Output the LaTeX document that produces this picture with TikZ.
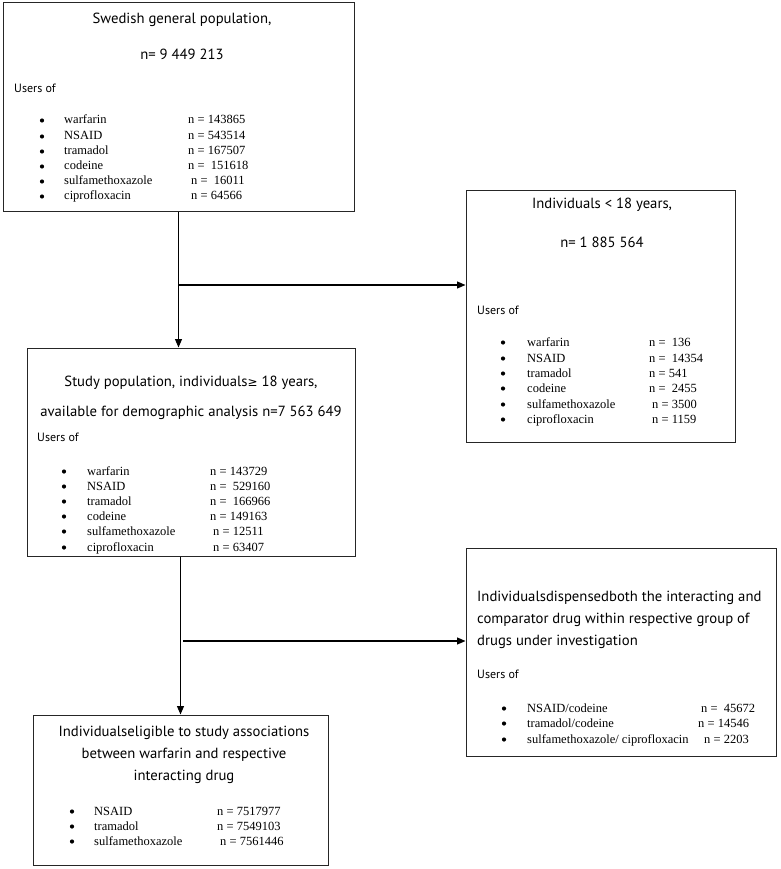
\documentclass[tikz,border=0pt]{standalone}
\usepackage{fontspec}
\setmainfont{Liberation Serif}
\newfontfamily\hdr{PT Sans}
\newfontfamily\symf{DejaVu Sans}
\usetikzlibrary{arrows.meta,calc}
\begin{document}
\begin{tikzpicture}[x=1pt,y=-1pt,
  box/.style={draw=black!85,line width=1pt,inner sep=0pt,fill=none},
  arr/.style={line width=1.2pt,-{Triangle[length=8.5pt,width=7pt]}},
  ttl/.style={font=\hdr\fontsize{14.7}{17}\selectfont,inner sep=0pt},
  ttlw/.style={font=\hdr\fontsize{14.7}{17}\selectfont,inner sep=0pt,anchor=west},
  usr/.style={font=\hdr\fontsize{12}{14}\selectfont,inner sep=0pt,anchor=west},
  itm/.style={font=\fontsize{12.5}{14}\selectfont,inner sep=0pt,anchor=base west},
  bul/.style={circle,fill=black,inner sep=0pt,minimum size=4.2pt}]
\useasboundingbox (0,0) rectangle (780,869);
% boxes
\node[box,minimum width=351pt,minimum height=208pt] (b1) at (178.5,107) {};
\node[box,minimum width=328pt,minimum height=208pt] (b2) at (191,452) {};
\node[box,minimum width=269pt,minimum height=252pt] (b3) at (600.5,316) {};
\node[box,minimum width=310pt,minimum height=208pt] (b4) at (621,652) {};
\node[box,minimum width=295pt,minimum height=150pt] (b5) at (180.5,790) {};
% connectors
\draw[arr] (b1.south) -- (b1.south |- b2.north);
\coordinate (j1) at (178.5,285);
\draw[arr] (j1) -- (j1 -| b3.west);
\draw[arr] (b5.north |- b2.south) -- (b5.north);
\coordinate (j2) at (183,641);
\draw[arr] (j2) -- (j2 -| b4.west);
% box 1
\node[ttl] (t11) at (182,20) {Swedish general population,};
\node[ttl] (t12) at (182,54) {n= 9 449 213};
\node[usr] (u1) at (14,88) {Users of};
\foreach \y/\nm/\nv/\nx [count=\i] in {119/warfarin/n = 143865/188, 135/NSAID/n = 543514/188, 150/tramadol/n = 167507/188, 165/codeine/n =\ \ 151618/188, 180/sulfamethoxazole/n =\ \ 16011/191, 195/ciprofloxacin/n = 64566/191}{
  \node[bul] (a1b\i) at (42,\y+1.5) {};
  \node[itm] (a1n\i) at (64,\y+5) {\nm};
  \node[itm] (a1v\i) at (\nx,\y+5) {\nv};
}
% box 3
\node[ttl] (t31) at (602,205) {Individuals < 18 years,};
\node[ttl] (t32) at (602,242) {n= 1 885 564};
\node[usr] (u3) at (477,310) {Users of};
\foreach \y/\nm/\nv/\nx [count=\i] in {341/warfarin/n =\ \ 136/649, 357/NSAID/n =\ \ 14354/649, 372/tramadol/n = 541/649, 387/codeine/n =\ \ 2455/649, 403/sulfamethoxazole/n = 3500/652, 418/ciprofloxacin/n = 1159/652}{
  \node[bul] (a3b\i) at (503,\y+1.5) {};
  \node[itm] (a3n\i) at (527,\y+5) {\nm};
  \node[itm] (a3v\i) at (\nx,\y+5) {\nv};
}
% box 2
\node[ttl] (t21) at (191,383) {Study population, individuals{\symf\fontsize{12}{14}\selectfont≥} 18 years,};
\node[ttl] (t22) at (191,413) {available for demographic analysis n=7 563 649};
\node[usr] (u2) at (37,437) {Users of};
\foreach \y/\nm/\nv/\nx [count=\i] in {470/warfarin/n = 143729/210, 485/NSAID/n =\ \ 529160/210, 500/tramadol/n =\ \ 166966/210, 515/codeine/n = 149163/210, 530/sulfamethoxazole/n = 12511/213, 546/ciprofloxacin/n = 63407/213}{
  \node[bul] (a2b\i) at (64,\y+1.5) {};
  \node[itm] (a2n\i) at (87,\y+5) {\nm};
  \node[itm] (a2v\i) at (\nx,\y+5) {\nv};
}
% box 4
\node[ttlw] (t41) at (477,598) {Individualsdispensedboth the interacting and};
\node[ttlw] (t42) at (477,620) {comparator drug within respective group of};
\node[ttlw] (t43) at (477,642) {drugs under investigation};
\node[usr] (u4) at (477,674) {Users of};
\foreach \y/\nm/\nv/\nx [count=\i] in {707/NSAID\slash codeine/n =\ \ 45672/701, 722/tramadol\slash codeine/n = 14546/698, 738/sulfamethoxazole\slash\ ciprofloxacin/n = 2203/704}{
  \node[bul] (a4b\i) at (504,\y+1.5) {};
  \node[itm] (a4n\i) at (527,\y+5) {\nm};
  \node[itm] (a4v\i) at (\nx,\y+5) {\nv};
}
% box 5
\node[ttl] (t51) at (184,733) {Individualseligible to study associations};
\node[ttl] (t52) at (184,755) {between warfarin and respective};
\node[ttl] (t53) at (184,777) {interacting drug};
\foreach \y/\nm/\nv/\nx [count=\i] in {810/NSAID/n = 7517977/217, 825/tramadol/n = 7549103/217, 840/sulfamethoxazole/n = 7561446/220}{
  \node[bul] (a5b\i) at (72,\y+1.5) {};
  \node[itm] (a5n\i) at (94,\y+5) {\nm};
  \node[itm] (a5v\i) at (\nx,\y+5) {\nv};
}
\end{tikzpicture}
\end{document}
